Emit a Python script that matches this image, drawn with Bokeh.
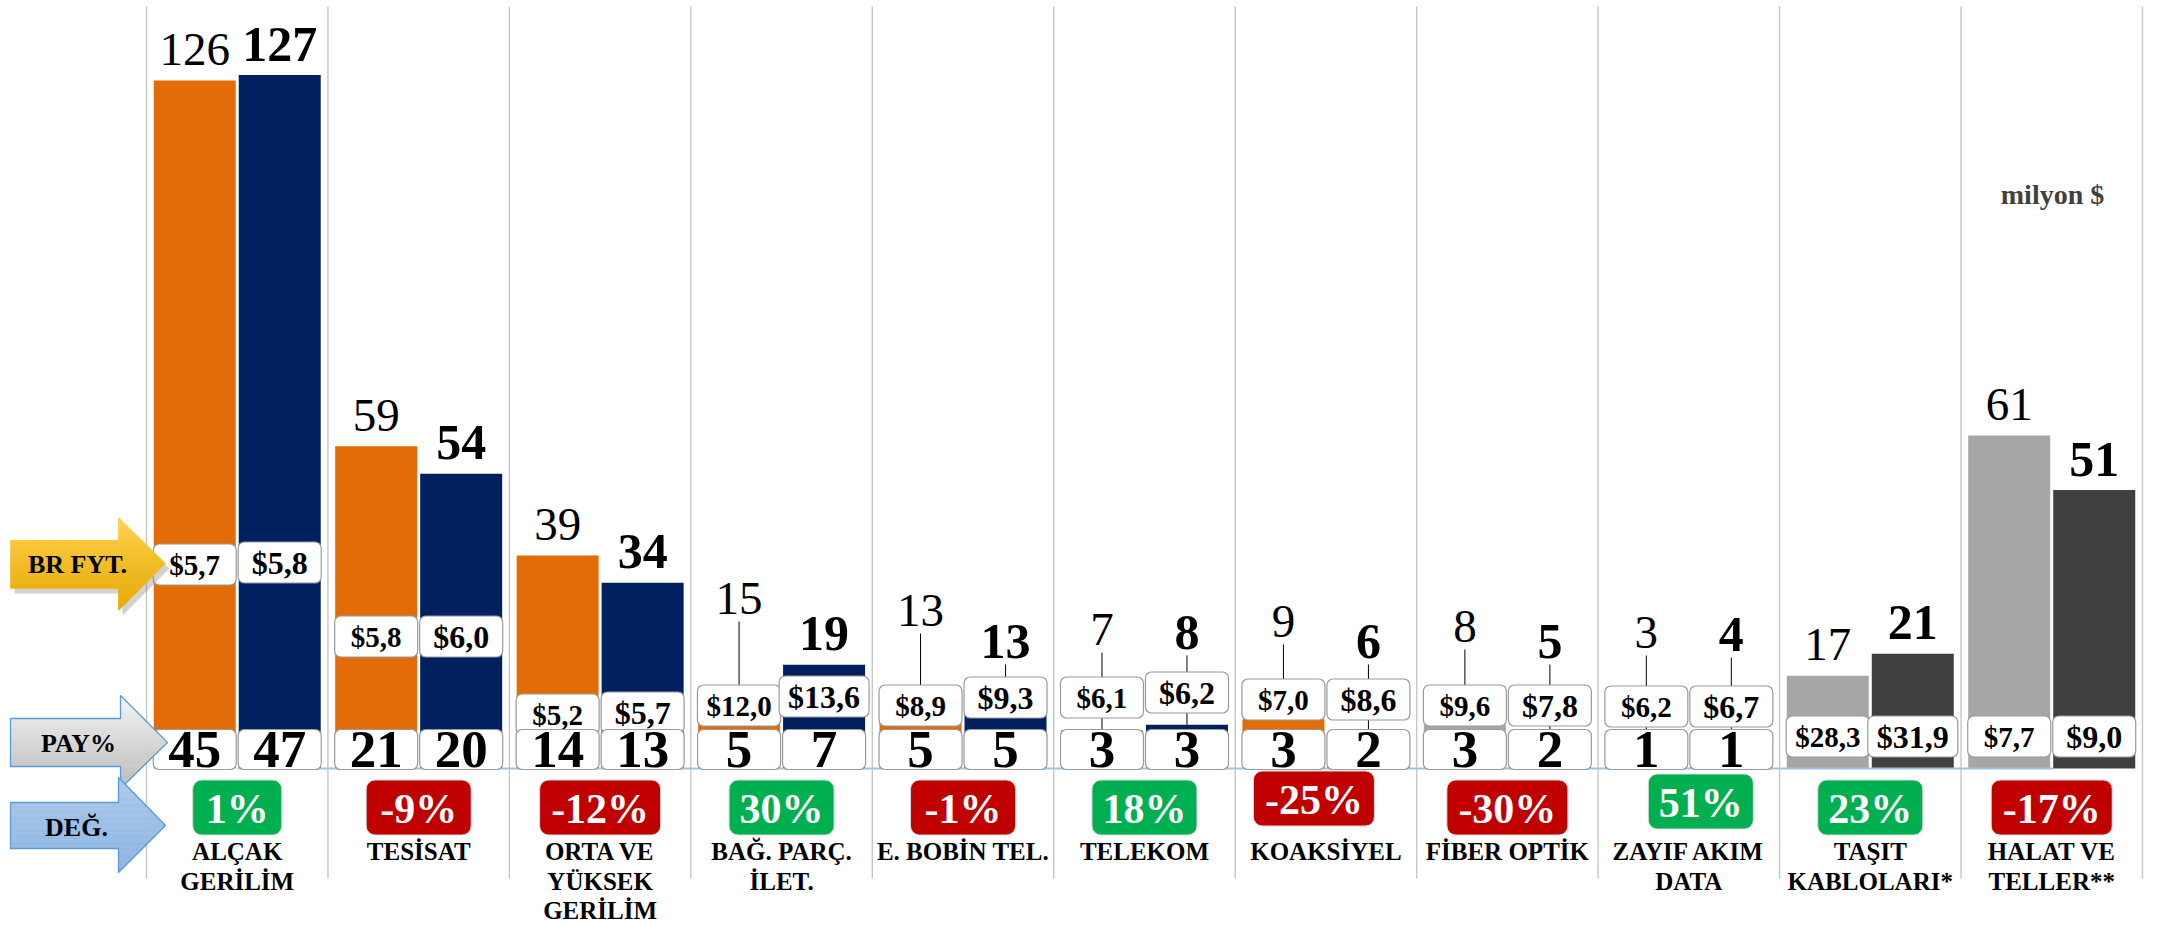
from bokeh.plotting import figure
from bokeh.models import Range1d
from bokeh.embed import file_html
from bokeh.resources import INLINE
from bokeh.core.properties import value

# ---------------- data ----------------
categories = ["ALÇAK\nGERİLİM", "TESİSAT", "ORTA VE\nYÜKSEK\nGERİLİM", "BAĞ. PARÇ.\nİLET.",
              "E. BOBİN TEL.", "TELEKOM", "KOAKSİYEL", "FİBER OPTİK", "ZAYIF AKIM\nDATA",
              "TAŞIT\nKABLOLARI*", "HALAT VE\nTELLER**"]
value_prev = [126, 59, 39, 15, 13, 7, 9, 8, 3, 17, 61]
value_curr = [127, 54, 34, 19, 13, 8, 6, 5, 4, 21, 51]
price_prev = ["$5,7", "$5,8", "$5,2", "$12,0", "$8,9", "$6,1", "$7,0", "$9,6", "$6,2", "$28,3", "$7,7"]
price_curr = ["$5,8", "$6,0", "$5,7", "$13,6", "$9,3", "$6,2", "$8,6", "$7,8", "$6,7", "$31,9", "$9,0"]
share_prev = [45, 21, 14, 5, 5, 3, 3, 3, 1, None, None]
share_curr = [47, 20, 13, 7, 5, 3, 2, 2, 1, None, None]
change_pct = [1, -9, -12, 30, -1, 18, -25, -30, 51, 23, -17]

# bar colours
color_prev = ["#E36C09"] * 7 + ["#A6A6A6", "#E36C09", "#A6A6A6", "#A6A6A6"]
color_curr = ["#002060"] * 9 + ["#404040", "#404040"]

# ---------------- layout (page pixels) ----------------
price_y_prev = [564, 636, 714, 705, 705, 697, 699, 705, 706, 736, 736]
price_y_curr = [562, 636, 712, 696, 697, 692, 699, 705, 706, 736, 736]
label_y_prev = [None, None, None, 598, 610, 629, 621, 626, 632, None, None]
label_y_curr = [None, None, None, None, 641, 632, 641, 641, 634, None, None]
chg_dx = [0, 0, 0, 0, 0, 0, -12, 0, 12, 0, 0]
chg_dy = [0, 0, 0, 0, 0, 0, -9, 0, -6, 0, 0]

W, H = 2162, 925
CAT_LEFT_PX, CAT_W_PX = 146.0, 181.45
ZERO_PX, UNIT_PX = 768.0, 5.46


def X(px):
    return (px - CAT_LEFT_PX) / CAT_W_PX


def Y(px):
    return (ZERO_PX - px) / UNIT_PX


def DX(px):
    return px / CAT_W_PX


def DY(px):
    return px / UNIT_PX


SERIF = value("Liberation Serif")

p = figure(width=W, height=H, x_range=Range1d(X(0), X(W)), y_range=Range1d(Y(H), Y(0)),
           x_axis_type=None, y_axis_type=None, output_backend="svg", toolbar_location=None,
           min_border=0)
p.outline_line_color = None
p.background_fill_color = "white"
p.border_fill_color = "white"

n = len(categories)
centers = [i + 0.5 for i in range(n)]
OFF, BW = DX(42.5), DX(82)
x_prev = [c - OFF for c in centers]
x_curr = [c + OFF for c in centers]

# separators
p.segment(x0=list(range(n + 1)), x1=list(range(n + 1)), y0=[Y(878)] * (n + 1), y1=[Y(6)] * (n + 1),
          line_color="#C6C6C6", line_width=1.4)

# bars
p.vbar(x=x_prev, top=value_prev, bottom=0, width=BW, fill_color=color_prev, line_color=None)
p.vbar(x=x_curr, top=value_curr, bottom=0, width=BW, fill_color=color_curr, line_color=None)

# axis line
p.segment(x0=[X(237)], x1=[X(2053)], y0=[0], y1=[0], line_color="#9DC3E6", line_width=2)

# value label positions + leader lines
lx, ly, ltxt, lbold = [], [], [], []
seg_x, seg_y0, seg_y1 = [], [], []
for xs, vals, overrides, bold in ((x_prev, value_prev, label_y_prev, False),
                                  (x_curr, value_curr, label_y_curr, True)):
    for xv, v, ov in zip(xs, vals, overrides):
        if ov is None:
            yv = v + DY(31)
        else:
            yv = Y(ov)
            seg_x.append(xv)
            seg_y0.append(yv - DY(23))
            seg_y1.append(v)
        lx.append(xv)
        ly.append(yv)
        ltxt.append(str(v))
        lbold.append(bold)

p.segment(x0=seg_x, x1=seg_x, y0=seg_y0, y1=seg_y1, line_color="black", line_width=1)


def text_w(s, fs):
    w = 0
    for ch in s:
        w += 0.25 if ch in ",." else 0.5
    return w * fs


def boxes(xs, cys, texts, fs, h=41, minw=83):
    L, R, T, B, tx, ty, tt = [], [], [], [], [], [], []
    for xv, cy, t in zip(xs, cys, texts):
        if t is None:
            continue
        w = max(minw, text_w(t, fs) + 18)
        L.append(xv - DX(w / 2))
        R.append(xv + DX(w / 2))
        T.append(Y(cy - h / 2))
        B.append(Y(cy + h / 2))
        tx.append(xv)
        ty.append(Y(cy))
        tt.append(t)
    p.quad(left=L, right=R, top=T, bottom=B, fill_color="white", line_color="#9A9A9A",
           line_width=1.2, border_radius=6)
    p.text(x=tx, y=ty, text=tt, text_align="center", text_baseline="middle",
           text_font=SERIF, text_font_style="bold", text_font_size=f"{fs}px", text_color="black")


# price boxes
boxes(x_prev, price_y_prev, price_prev, 29)
boxes(x_curr, price_y_curr, price_curr, 32)

# share boxes
boxes(x_prev, [749] * n, [None if s is None else str(s) for s in share_prev], 53, h=40)
boxes(x_curr, [749] * n, [None if s is None else str(s) for s in share_curr], 53, h=40)

# value labels
p.text(x=[a for a, b in zip(lx, lbold) if not b], y=[a for a, b in zip(ly, lbold) if not b],
       text=[a for a, b in zip(ltxt, lbold) if not b], text_align="center", text_baseline="middle",
       text_font=SERIF, text_font_size="47px", text_color="black")
p.text(x=[a for a, b in zip(lx, lbold) if b], y=[a for a, b in zip(ly, lbold) if b],
       text=[a for a, b in zip(ltxt, lbold) if b], text_align="center", text_baseline="middle",
       text_font=SERIF, text_font_style="bold", text_font_size="50px", text_color="black")

# change boxes
cl, cr, ct, cb, cc, ctx, cty, ctt = [], [], [], [], [], [], [], []
for c, v, ddx, ddy in zip(centers, change_pct, chg_dx, chg_dy):
    t = f"{v}%"
    w = 16 * len(t) + 57
    xc = c + DX(ddx)
    yc = 807 + ddy
    cl.append(xc - DX(w / 2))
    cr.append(xc + DX(w / 2))
    ct.append(Y(yc - 27.5))
    cb.append(Y(yc + 27.5))
    cc.append("#00B050" if v >= 0 else "#C00000")
    ctx.append(xc)
    cty.append(Y(yc + 1))
    ctt.append(t)
p.quad(left=cl, right=cr, top=ct, bottom=cb, fill_color=cc, line_color="#D9D9D9", line_width=1,
       border_radius=9)
p.text(x=ctx, y=cty, text=ctt, text_align="center", text_baseline="middle", text_font=SERIF,
       text_font_style="bold", text_font_size="42px", text_color="white")

# category labels
nx, ny, nt = [], [], []
for c, name in zip(centers, categories):
    for k, line in enumerate(name.split("\n")):
        nx.append(c)
        ny.append(Y(851 + 29.5 * k))
        nt.append(line)
p.text(x=nx, y=ny, text=nt, text_align="center", text_baseline="middle", text_font=SERIF,
       text_font_style="bold", text_font_size="25px", text_color="black")


# ---------------- left arrows ----------------
def hexmix(c1, c2, t):
    a = [int(c1[i:i + 2], 16) for i in (1, 3, 5)]
    b = [int(c2[i:i + 2], 16) for i in (1, 3, 5)]
    return "#%02x%02x%02x" % tuple(round(a[i] + (b[i] - a[i]) * t) for i in range(3))


def arrow(left, head_x, tip_x, bt, bb, ht, hb, tip_y, c_top, c_bot, outline=None, shadow=False):
    outline_pts = [(left, bt), (head_x, bt), (head_x, ht), (tip_x, tip_y), (head_x, hb),
                   (head_x, bb), (left, bb)]
    if shadow:
        p.patch([X(a + 4) for a, b in outline_pts], [Y(b + 5) for a, b in outline_pts],
                fill_color="#7F7F7F", fill_alpha=0.35, line_color=None)
    N = 40
    edges = sorted(set([ht + (hb - ht) * k / N for k in range(N + 1)] + [bt, bb, tip_y]))

    def xr(y):
        if y <= tip_y:
            f = (y - ht) / (tip_y - ht)
        else:
            f = (hb - y) / (hb - tip_y)
        return head_x + (tip_x - head_x) * f

    for ya, yb in zip(edges[:-1], edges[1:]):
        mid = (ya + yb) / 2
        lft = left if bt <= mid <= bb else head_x
        col = hexmix(c_top, c_bot, (mid - ht) / (hb - ht))
        xs = [lft, xr(ya), xr(yb), lft]
        ys = [ya, ya, yb, yb]
        p.patch([X(a) for a in xs], [Y(b) for b in ys], fill_color=col, line_color=col,
                line_width=0.6)
    if outline:
        p.patch([X(a) for a, b in outline_pts], [Y(b) for a, b in outline_pts], fill_alpha=0,
                line_color=outline, line_width=1.3)


arrow(10, 118, 165, 540, 588, 517, 610, 563, "#FFD24D", "#E5A800", shadow=True)
arrow(10, 120, 167, 718, 766, 695, 788, 742, "#F4F4F4", "#BBBBBB", outline="#5B9BD5")
arrow(10, 118, 165, 802, 848, 777, 872, 825, "#ABCBEA", "#8DB4E2", outline="#5B9BD5")

p.text(x=[X(77), X(78), X(76)], y=[Y(564), Y(743), Y(827)], text=["BR FYT.", "PAY%", "DEĞ."],
       text_align="center", text_baseline="middle", text_font=SERIF, text_font_style="bold",
       text_font_size="26px", text_color="black")

# unit note
p.text(x=[X(2052)], y=[Y(194)], text=["milyon $"], text_align="center", text_baseline="middle",
       text_font=SERIF, text_font_style="bold", text_font_size="28px", text_color="#404040")

open("out.html", "w").write(file_html(p, INLINE))
